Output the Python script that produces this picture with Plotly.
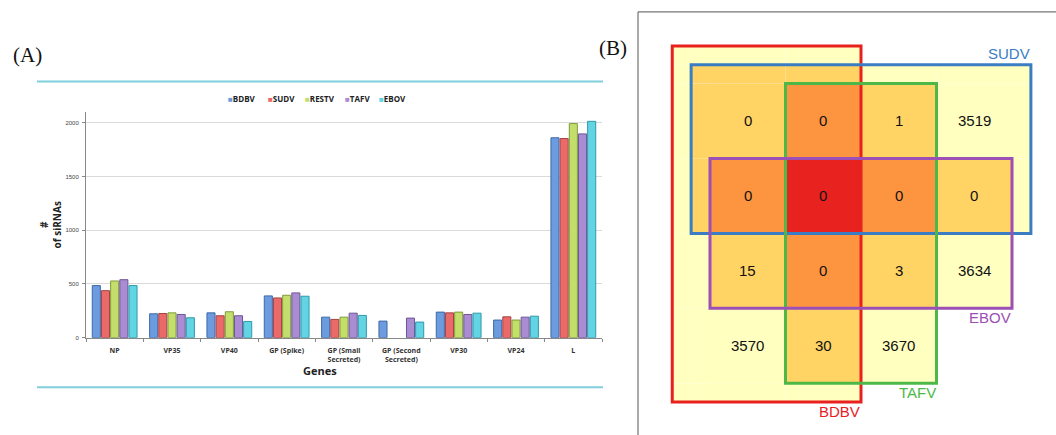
import plotly.graph_objects as go

W, H = 1056, 435

# ---------------- Panel A data ----------------
genes = ["NP", "VP35", "VP40", "GP (Spike)", "GP (Small<br>Secreted)",
         "GP (Second<br>Secreted)", "VP30", "VP24", "L"]
viruses = ["BDBV", "SUDV", "RESTV", "TAFV", "EBOV"]
bdbv = [485, 222, 231, 389, 191, 154, 238, 164, 1862]
sudv = [438, 225, 204, 370, 170, None, 231, 194, 1855]
restv = [528, 231, 241, 395, 191, None, 238, 164, 1994]
tafv = [540, 216, 204, 417, 228, 182, 216, 191, 1898]
ebov = [485, 185, 151, 386, 207, 145, 228, 200, 2015]
y_ticks = [0, 500, 1000, 1500, 2000]

fill_colors = ["#6C9BE0", "#EA6A6A", "#C4DE6C", "#A98CD2", "#62D4E4"]
edge_colors = ["#3D6AA6", "#A84242", "#7F9B3A", "#6D5596", "#2F99AA"]

# ---------------- Panel B data ----------------
# set extents in grid-cell units: x0, x1, y0 (top), y1 (bottom)
set_names = ["BDBV", "SUDV", "TAFV", "EBOV"]
set_x0 = [-0.5, -0.25, 1, 0]
set_x1 = [2, 4.25, 3, 4]
set_y0 = [-0.5, -0.25, 0, 1]
set_y1 = [4.25, 2, 4, 3]
set_colors = ["#E8211F", "#3A7DC2", "#4DB848", "#9C4FB4"]
# region counts (row, col)
venn_counts = [
    ["0", "0", "1", "3519"],
    ["0", "0", "0", "0"],
    ["15", "0", "3", "3634"],
    ["3570", "30", "3670", ""],
]
overlap_colors = {1: "#FFFFC0", 2: "#FFD364", 3: "#FD9540", 4: "#E8221E"}


def px(x):
    return x / W


def py(y):
    return 1 - y / H


fig = go.Figure()

series = [bdbv, sudv, restv, tafv, ebov]
for name, vals, fc, ec in zip(viruses, series, fill_colors, edge_colors):
    fig.add_trace(go.Bar(
        x=genes, y=vals, name=name,
        marker=dict(color=fc, line=dict(color=ec, width=1)),
        showlegend=False, xaxis="x", yaxis="y",
    ))

# invisible trace for panel B axes
fig.add_trace(go.Scatter(x=[0], y=[0], mode="markers", marker=dict(opacity=0),
                         showlegend=False, hoverinfo="skip", xaxis="x2", yaxis="y2"))

shapes = []
annotations = []

# teal separator lines
for yy in (82, 390):
    shapes.append(dict(type="line", xref="paper", yref="paper",
                       x0=px(37), x1=px(603), y0=py(yy), y1=py(yy),
                       line=dict(color="#7FD0DC", width=2)))

# legend (manual)
leg_x = [226, 266, 303, 343, 377]
for name, fc, lx in zip(viruses, fill_colors, leg_x):
    annotations.append(dict(
        xref="paper", yref="paper", x=px(lx), y=py(99), xanchor="left", yanchor="middle",
        text=f'<span style="color:{fc}">■</span><b>{name}</b>', showarrow=False,
        font=dict(size=8, color="#222", family="Open Sans")))

# axis titles
annotations.append(dict(xref="paper", yref="paper", x=px(320), y=py(373),
                        xanchor="center", yanchor="middle",
                        text="<b>Genes</b>", showarrow=False,
                        font=dict(size=11, color="#222", family="Open Sans")))
annotations.append(dict(xref="paper", yref="paper", x=px(50), y=py(227),
                        xanchor="center", yanchor="middle",
                        text="<b>#</b><br><b>of siRNAs</b>", showarrow=False, textangle=-90,
                        align="center",
                        font=dict(size=10, color="#222", family="Open Sans")))

# panel letters
annotations.append(dict(xref="paper", yref="paper", x=px(11), y=py(55),
                        xanchor="left", yanchor="middle",
                        text="(A)", showarrow=False,
                        font=dict(size=21, color="#111", family="Liberation Serif")))
annotations.append(dict(xref="paper", yref="paper", x=px(597), y=py(48),
                        xanchor="left", yanchor="middle",
                        text="(B)", showarrow=False,
                        font=dict(size=21, color="#111", family="Liberation Serif")))

# panel B border
shapes.append(dict(type="rect", xref="paper", yref="paper",
                   x0=px(638), x1=px(1062), y0=py(12), y1=py(442),
                   line=dict(color="#555", width=1), fillcolor="rgba(0,0,0,0)"))

# Venn region fills
xs = sorted(set(set_x0 + set_x1))
ys = sorted(set(set_y0 + set_y1))
for i in range(len(xs) - 1):
    for j in range(len(ys) - 1):
        cx = (xs[i] + xs[i + 1]) / 2
        cy = (ys[j] + ys[j + 1]) / 2
        n = sum(1 for k in range(len(set_names))
                if set_x0[k] < cx < set_x1[k] and set_y0[k] < cy < set_y1[k])
        if n:
            shapes.append(dict(type="rect", xref="x2", yref="y2",
                               x0=xs[i], x1=xs[i + 1], y0=ys[j], y1=ys[j + 1],
                               fillcolor=overlap_colors[n], line=dict(width=0), layer="below"))

# Venn outlines
for k in [0, 1, 2, 3]:
    shapes.append(dict(type="rect", xref="x2", yref="y2",
                       x0=set_x0[k], x1=set_x1[k], y0=set_y0[k], y1=set_y1[k],
                       line=dict(color=set_colors[k], width=3), fillcolor="rgba(0,0,0,0)"))

# counts
for r, row in enumerate(venn_counts):
    for c, t in enumerate(row):
        if t:
            annotations.append(dict(xref="x2", yref="y2", x=c + 0.5, y=r + 0.5, text=t,
                                    xanchor="center", yanchor="middle",
                                    showarrow=False,
                                    font=dict(size=15, color="#111", family="Liberation Sans")))

# set labels
for k, name in enumerate(set_names):
    if name == "SUDV":
        yv, ya = set_y0[k], "bottom"
    else:
        yv, ya = set_y1[k], "top"
    annotations.append(dict(xref="x2", yref="y2", x=set_x1[k], y=yv, text=name,
                            xanchor="right", yanchor=ya, showarrow=False,
                            xshift=1, yshift=1,
                            font=dict(size=15, color=set_colors[k], family="Liberation Sans")))

cell = 75.5
x_origin, y_origin = 710, 84
fig.update_layout(
    width=W, height=H, autosize=False,
    margin=dict(l=0, r=0, t=0, b=0),
    paper_bgcolor="white", plot_bgcolor="white",
    barmode="group", bargap=0.2, bargroupgap=0.12,
    xaxis=dict(domain=[px(86), px(602)], tickson="boundaries", ticks="outside",
               ticklen=3, tickcolor="#888", showline=True, linecolor="#888",
               tickfont=dict(size=7, color="#333", family="Open Sans", weight="bold"),
               ticklabelstandoff=6,
               tickangle=0, showgrid=False),
    yaxis=dict(domain=[py(340), py(113)], range=[0, 2100], tickvals=y_ticks,
               showgrid=True, gridcolor="#DADADA", showline=True, linecolor="#888",
               ticks="outside", ticklen=3, tickcolor="#888", zeroline=False,
               ticklabelstandoff=2,
               tickfont=dict(size=6, color="#444", family="Liberation Sans")),
    xaxis2=dict(domain=[px(638), 1],
                range=[(638 - x_origin) / cell, (W - x_origin) / cell],
                visible=False, anchor="y2"),
    yaxis2=dict(domain=[0, 1],
                range=[(H - y_origin) / cell, (0 - y_origin) / cell],
                visible=False, anchor="x2"),
    shapes=shapes, annotations=annotations,
)

fig.write_html(
    "out.html",
    config={"displayModeBar": False},
    post_script="document.body.style.margin='0';document.body.style.overflow='hidden';"
                "document.documentElement.style.overflow='hidden';",
)
